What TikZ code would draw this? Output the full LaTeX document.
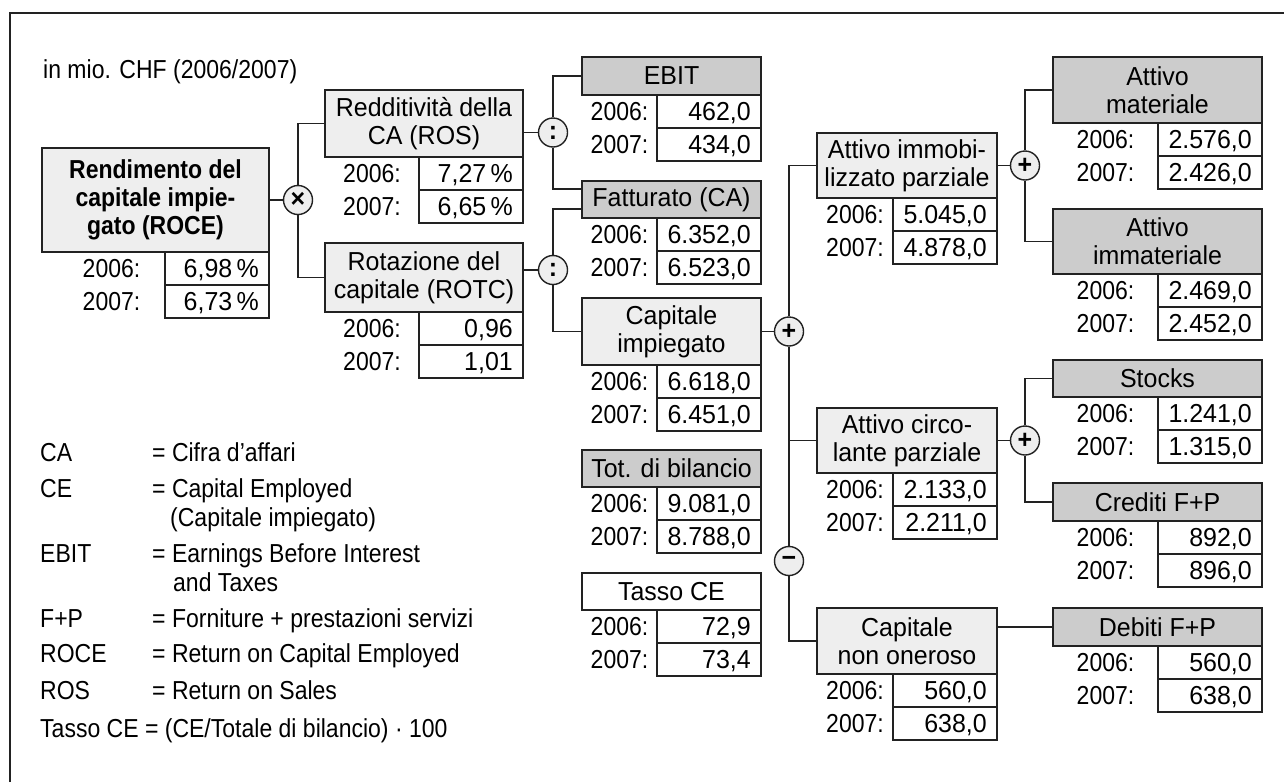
\documentclass[tikz,border=0pt]{standalone}
\usepackage{fontspec}
\setmainfont{Liberation Sans}[FakeStretch=0.96]
\newfontfamily\narrowfont{Liberation Sans}[FakeStretch=0.885]
\usetikzlibrary{calc}
\definecolor{lightbox}{HTML}{EEEEEE}
\definecolor{darkbox}{HTML}{CCCCCC}
\definecolor{linecol}{HTML}{222222}
\newcommand{\dsize}{\fontsize{26}{28}\selectfont}
\newcommand{\labshift}{0}
\tikzset{
 every node/.style={font=\dsize, text=black},
 titlebox/.style={draw=linecol, line width=1.5pt, inner sep=0pt, outer sep=0pt, align=center},
 lightfill/.style={fill=lightbox},
 darkfill/.style={fill=darkbox},
 whitefill/.style={fill=white},
 valbox/.style={draw=linecol, line width=1.5pt, fill=white, minimum width=104pt, minimum height=33pt, inner sep=0pt, outer sep=0pt},
 valtext/.style={inner sep=0pt},
 yeartext/.style={inner sep=0pt, font=\dsize\narrowfont},
 legendtext/.style={inner sep=0pt, anchor=base west, font=\dsize\narrowfont},
 opcircle/.style={circle, draw=linecol, line width=1.4pt, fill=lightbox, minimum size=29pt, inner sep=0pt, font=\dsize\bfseries},
 conn/.style={draw=linecol, line width=1.3pt},
}
% #1 name, #2 left, #3 right, #4 top, #5 bottom, #6 style, #7 text, #8 2006, #9 2007
\newcommand{\kpibox}[9]{%
 \node[titlebox,#6,minimum width={(#3-#2)*1pt},minimum height={(#5-#4)*1pt}] (#1) at ({(#2+#3)/2},{(#4+#5)/2}) {#7};
 \node[valbox,anchor=north east] (#1-v1) at (#1.south east) {};
 \node[valbox,anchor=north east] (#1-v2) at (#1-v1.south east) {};
 \node[valtext,anchor=base east] (#1-n1) at ($(#1-v1.north east)+(-10,25.5)$) {#8};
 \node[valtext,anchor=base east] (#1-n2) at ($(#1-v2.north east)+(-10,25.5)$) {#9};
 \node[yeartext,anchor=base] (#1-y1) at ($(#1.south west)!0.5!(#1-v1.north west)+(\labshift,25.5)$) {2006:};
 \node[yeartext,anchor=base] (#1-y2) at ($(#1.south west)!0.5!(#1-v1.north west)+(\labshift,58.5)$) {2007:};
}
\begin{document}
\begin{tikzpicture}[x=1pt,y=-1pt]
\useasboundingbox (0,0) rectangle (1284,782);
\fill[white] (0,0) rectangle (1284,782);
\draw[line width=2pt, linecol] (10,782) -- (10,13) -- (1284,13);

\node[legendtext] (title) at (43,78) {in mio. CHF (2006/2007)};

\renewcommand{\labshift}{8}
\kpibox{roce}{42}{269}{148}{252}{lightfill,font=\dsize\narrowfont\bfseries}{Rendimento del\\capitale impie-\\gato (ROCE)}{6,98\,\%}{6,73\,\%}
\renewcommand{\labshift}{0}
\kpibox{ros}{325}{523}{90}{157}{lightfill}{Redditività della\\CA (ROS)}{7,27\,\%}{6,65\,\%}
\kpibox{rotc}{325}{523}{243}{312}{lightfill}{Rotazione del\\capitale (ROTC)}{0,96}{1,01}
\kpibox{ebit}{582}{761}{57}{95}{darkfill}{EBIT}{462,0}{434,0}
\kpibox{fatt}{582}{761}{181}{218}{darkfill}{Fatturato (CA)}{6.352,0}{6.523,0}
\kpibox{capimp}{582}{761}{298}{365}{lightfill}{Capitale\\impiegato}{6.618,0}{6.451,0}
\kpibox{totbil}{582}{761}{450}{487}{darkfill}{Tot. di bilancio}{9.081,0}{8.788,0}
\kpibox{tasso}{582}{761}{573}{610}{whitefill}{Tasso CE}{72,9}{73,4}
\kpibox{aimm}{817}{997}{133}{198}{lightfill}{Attivo immobi-\\lizzato parziale}{5.045,0}{4.878,0}
\kpibox{acirc}{817}{997}{408}{473}{lightfill}{Attivo circo-\\lante parziale}{2.133,0}{2.211,0}
\kpibox{cno}{817}{997}{608}{674}{lightfill}{Capitale\\non oneroso}{560,0}{638,0}
\kpibox{amat}{1053}{1262}{57}{123}{darkfill}{Attivo\\materiale}{2.576,0}{2.426,0}
\kpibox{aimmat}{1053}{1262}{209}{274}{darkfill}{Attivo\\immateriale}{2.469,0}{2.452,0}
\kpibox{stocks}{1053}{1262}{360}{397}{darkfill}{Stocks}{1.241,0}{1.315,0}
\kpibox{cred}{1053}{1262}{483}{521}{darkfill}{Crediti F+P}{892,0}{896,0}
\kpibox{deb}{1053}{1262}{608}{646}{darkfill}{Debiti F+P}{560,0}{638,0}

\node[opcircle] (times) at (298,200) {×};
\node[opcircle] (colon1) at (553,132.5) {:};
\node[opcircle] (colon2) at (553,270) {:};
\node[opcircle] (plus1) at (789,331.5) {+};
\node[opcircle] (minus) at (789,561) {−};
\node[opcircle] (plus2) at (1025,165.5) {+};
\node[opcircle] (plus3) at (1025,440.5) {+};

\coordinate (fattin1) at ([yshift=-8pt]fatt.north west);
\coordinate (fattin2) at ([yshift=-28pt]fatt.north west);

\draw[conn] (roce.east) -- (times);
\draw[conn] (times.north) |- (ros.west);
\draw[conn] (times.south) |- (rotc.west);
\draw[conn] (colon1.west) -- (colon1.west -| ros.east);
\draw[conn] (colon1.north) |- (ebit.west);
\draw[conn] (colon1.south) |- (fattin1);
\draw[conn] (colon2.west) -- (colon2.west -| rotc.east);
\draw[conn] (colon2.north) |- (fattin2);
\draw[conn] (colon2.south) |- (capimp.west);
\draw[conn] (capimp.east) -- (plus1);
\draw[conn] (plus1.north) |- (aimm.west);
\draw[conn] (plus1.south) -- (minus.north);
\draw[conn] (acirc.west) -- (acirc.west -| plus1);
\draw[conn] (minus.south) |- (cno.west);
\draw[conn] (aimm.east) -- (plus2);
\draw[conn] (plus2.north) |- (amat.west);
\draw[conn] (plus2.south) |- (aimmat.west);
\draw[conn] (acirc.east) -- (plus3);
\draw[conn] (plus3.north) |- (stocks.west);
\draw[conn] (plus3.south) |- (cred.west);
\draw[conn] (deb.west) -- (deb.west -| cno.east);

\node[legendtext] (lg1a) at (40,461) {CA};
\node[legendtext] (lg1b) at (152,461) {= Cifra d’affari};
\node[legendtext] (lg2a) at (40,497) {CE};
\node[legendtext] (lg2b) at (152,497) {= Capital Employed};
\node[legendtext] (lg2c) at (170,526) {(Capitale impiegato)};
\node[legendtext] (lg3a) at (40,562) {EBIT};
\node[legendtext] (lg3b) at (152,562) {= Earnings Before Interest};
\node[legendtext] (lg3c) at (173,591) {and Taxes};
\node[legendtext] (lg4a) at (40,627) {F+P};
\node[legendtext] (lg4b) at (152,627) {= Forniture + prestazioni servizi};
\node[legendtext] (lg5a) at (40,662) {ROCE};
\node[legendtext] (lg5b) at (152,662) {= Return on Capital Employed};
\node[legendtext] (lg6a) at (40,699) {ROS};
\node[legendtext] (lg6b) at (152,699) {= Return on Sales};
\node[legendtext] (lg7) at (40,737) {Tasso CE = (CE/Totale di bilancio) · 100};
\end{tikzpicture}
\end{document}
